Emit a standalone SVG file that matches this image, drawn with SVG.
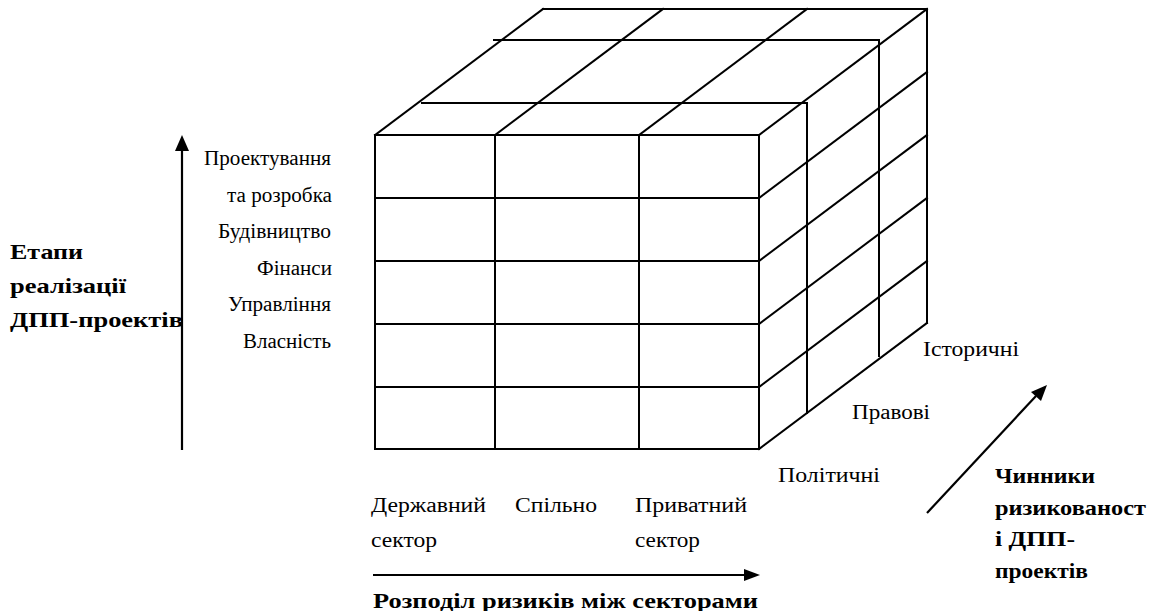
<svg xmlns="http://www.w3.org/2000/svg" width="1149" height="611" viewBox="0 0 1149 611">
<style>
.l{stroke:#000;stroke-width:2;fill:none;stroke-linecap:square}
.a{stroke:#000;stroke-width:2.2;fill:none}
.t{font-family:'Liberation Serif',serif;font-size:20px;fill:#000}
.b{font-family:'Liberation Serif',serif;font-size:22px;font-weight:bold;fill:#000}
</style>
<rect width="1149" height="611" fill="#fff"/>
<g id="cube">
<g id="front-face" class="l">
<rect x="375" y="135" width="384" height="314"/>
<line x1="495" y1="135" x2="495" y2="449"/>
<line x1="639" y1="135" x2="639" y2="449"/>
<line x1="375" y1="198" x2="759" y2="198"/>
<line x1="375" y1="261" x2="759" y2="261"/>
<line x1="375" y1="324" x2="759" y2="324"/>
<line x1="375" y1="387" x2="759" y2="387"/>
</g>
<g id="top-face" class="l">
<line x1="543" y1="9" x2="927" y2="9"/>
<line x1="375" y1="135" x2="543" y2="9"/>
<line x1="495" y1="135" x2="663" y2="9"/>
<line x1="639" y1="135" x2="807" y2="9"/>
<line x1="759" y1="135" x2="927" y2="9"/>
<polyline points="494,40 879,40 879,356"/>
<polyline points="422,103 807,103 807,413"/>
</g>
<g id="right-face" class="l">
<line x1="927" y1="9" x2="927" y2="323"/>
<line x1="759" y1="198" x2="927" y2="72"/>
<line x1="759" y1="261" x2="927" y2="135"/>
<line x1="759" y1="324" x2="927" y2="198"/>
<line x1="759" y1="387" x2="927" y2="261"/>
<line x1="759" y1="449" x2="927" y2="323"/>
</g>
</g>
<g id="connectors">
<line class="a" x1="182" y1="450" x2="182" y2="150"/>
<path d="M182,135 L189,151 L175,151 Z" fill="#000"/>
<line class="a" x1="373" y1="575" x2="745" y2="575"/>
<path d="M760,575 L744,569 L744,581 Z" fill="#000"/>
<line class="a" x1="927" y1="513" x2="1036" y2="396"/>
<path d="M1047,385 L1041,401 L1031,392 Z" fill="#000"/>
</g>
<g id="stages" font-family="Liberation Serif, serif">
<text class="t" x="204" y="165" textLength="127" lengthAdjust="spacingAndGlyphs">Проектування</text>
<text class="t" x="227" y="202" textLength="105" lengthAdjust="spacingAndGlyphs">та розробка</text>
<text class="t" x="218" y="238" textLength="113" lengthAdjust="spacingAndGlyphs">Будівництво</text>
<text class="t" x="257" y="275" textLength="75" lengthAdjust="spacingAndGlyphs">Фінанси</text>
<text class="t" x="228" y="311" textLength="103" lengthAdjust="spacingAndGlyphs">Управління</text>
<text class="t" x="243" y="348" textLength="88" lengthAdjust="spacingAndGlyphs">Власність</text>
</g>
<g id="stages-title">
<text class="b" x="10" y="259" textLength="73" lengthAdjust="spacingAndGlyphs">Етапи</text>
<text class="b" x="10" y="293" textLength="116" lengthAdjust="spacingAndGlyphs">реалізації</text>
<text class="b" x="10" y="327" textLength="173" lengthAdjust="spacingAndGlyphs">ДПП-проектів</text>
</g>
<g id="sectors">
<text class="t" x="371" y="512" textLength="115" lengthAdjust="spacingAndGlyphs">Державний</text>
<text class="t" x="371" y="547" textLength="66" lengthAdjust="spacingAndGlyphs">сектор</text>
<text class="t" x="515" y="512" textLength="82" lengthAdjust="spacingAndGlyphs">Спільно</text>
<text class="t" x="635" y="512" textLength="112" lengthAdjust="spacingAndGlyphs">Приватний</text>
<text class="t" x="635" y="547" textLength="65" lengthAdjust="spacingAndGlyphs">сектор</text>
</g>
<g id="sectors-title">
<text class="b" x="373" y="608" textLength="385" lengthAdjust="spacingAndGlyphs">Розподіл ризиків між секторами</text>
</g>
<g id="factors">
<text class="t" x="778" y="482" textLength="102" lengthAdjust="spacingAndGlyphs">Політичні</text>
<text class="t" x="852" y="419" textLength="78" lengthAdjust="spacingAndGlyphs">Правові</text>
<text class="t" x="923" y="356" textLength="96" lengthAdjust="spacingAndGlyphs">Історичні</text>
</g>
<g id="factors-title">
<text class="b" x="995" y="483" textLength="100" lengthAdjust="spacingAndGlyphs">Чинники</text>
<text class="b" x="995" y="515" textLength="151" lengthAdjust="spacingAndGlyphs">ризикованост</text>
<text class="b" x="995" y="546" textLength="80" lengthAdjust="spacingAndGlyphs">і  ДПП-</text>
<text class="b" x="995" y="578" textLength="93" lengthAdjust="spacingAndGlyphs">проектів</text>
</g>
</svg>
